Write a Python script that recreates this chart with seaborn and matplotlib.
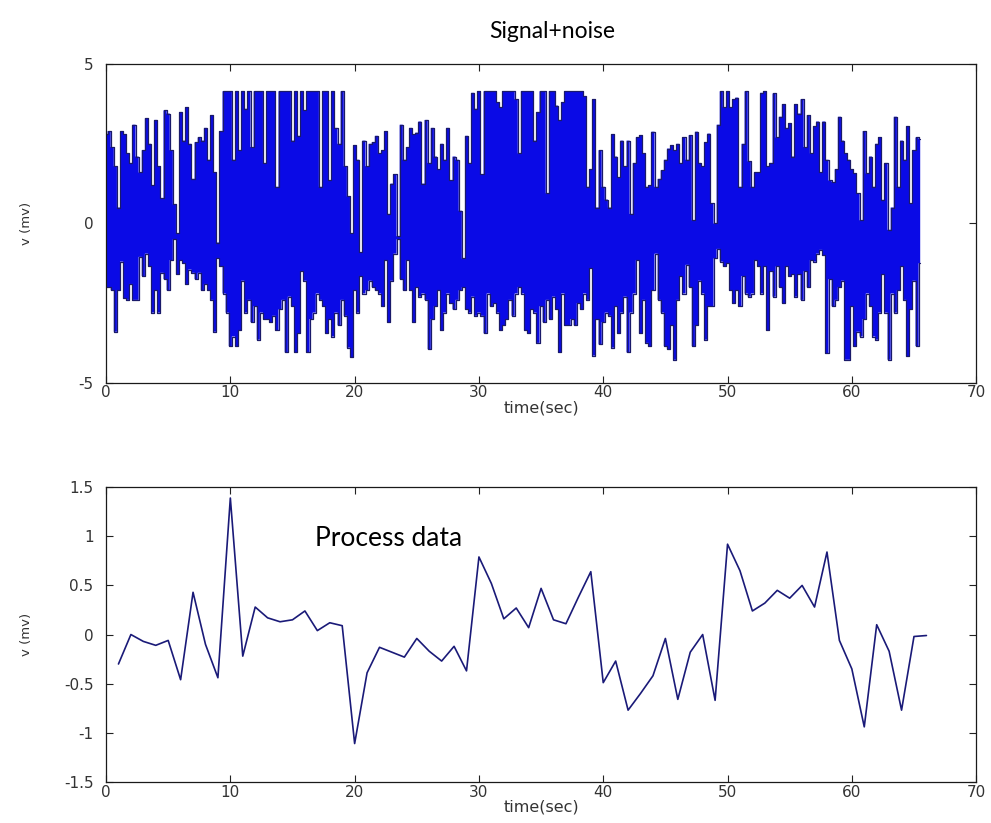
import numpy as np
import matplotlib
matplotlib.use("Agg")
import matplotlib.pyplot as plt
import seaborn as sns

# ---- Signal+noise: upper / lower excursion of the trace (mV), one column every 0.25 s ----
sample_dt = 0.25
sig_upper = [
    2.8, 2.9, 2.4, 1.8,   0.5, 2.9, 2.8, 2.2,   1.9, 3.1, 2.1, 1.6,   2.3, 3.3, 2.5, 1.2,
    3.25, 1.8, 0.8, 3.55, 3.45, 2.3, 0.6, -0.3, 3.5, 2.6, 3.65, 2.5,  1.4, 2.55, 2.7, 2.6,
    3.0, 2.0, 3.4, 1.6,   -0.6, 2.9, 4.15, 4.15, 4.15, 2.0, 4.15, 2.3, 4.15, 3.6, 4.15, 2.4,
    4.15, 4.15, 4.15, 1.9, 4.15, 4.15, 4.15, 1.15, 4.15, 4.15, 4.15, 4.15, 2.6, 4.15, 2.75, 4.15,
    3.55, 4.15, 4.15, 4.15, 4.15, 1.15, 4.15, 4.15, 1.35, 4.15, 3.0, 2.5, 4.15, 1.8, 0.85, -0.3,
    2.45, 2.0, -0.9, 2.6, 1.8, 2.5, 2.55, 2.75, 2.2, 2.3, 2.9, 0.3,  1.25, 1.55, -0.4, 3.1,
    2.0, 2.4, 3.0, 2.8,   2.85, 3.2, 1.25, 3.25, 1.9, 3.0, 2.1, 1.7,   2.5, 2.0, 3.0, 1.35,
    2.1, 2.0, 0.4, -1.1,  2.75, 1.9, 4.1, 3.6,  4.15, 1.55, 4.15, 4.15, 4.15, 4.15, 3.8, 3.65,
    4.15, 4.15, 4.15, 4.15, 3.9, 2.2, 4.15, 4.15, 4.15, 4.15, 2.6, 3.5, 4.15, 4.15, 0.95, 4.15,
    4.15, 3.7, 3.25, 3.8, 4.15, 4.15, 4.15, 4.15, 4.15, 4.15, 4.0, 1.15, 1.7, 3.9, 0.5, 2.3,
    1.15, 0.75, 0.5, 2.8, 2.1, 1.45, 2.6, 1.8,  2.6, 0.3, 1.9, 2.7,    2.77, 2.2, 1.15, 1.2,
    2.88, 1.15, 1.4, 1.67, 2.0, 2.35, 2.45, 2.3, 2.5, 1.9, 2.7, 2.0,   2.77, 0.1, 2.88, 1.9,
    1.8, 2.55, 2.82, 0.63, 0.0, 3.1, 4.15, 3.65, 4.15, 3.65, 3.9, 3.95, 1.15, 2.5, 4.15, 1.95,
    1.15, 1.6, 1.6, 4.1,  4.15, 1.8, 1.9, 4.08, 2.7, 3.35, 3.75, 3.0, 3.15, 2.1, 3.75, 3.45,
    3.9, 2.4, 3.4, 2.2,   3.05, 3.2, 1.6, 3.2,  2.0, 1.35, 1.3, 1.7,   3.35, 2.6, 2.2, 2.0,
    1.7, 1.57, 0.95, 0.1, 2.9, 1.57, 2.1, 1.15, 2.5, 2.7, 0.74, 1.9,   -0.2, 0.5, 3.35, 1.15,
    2.6, 2.0, 3.05, 0.63, 2.3, 2.7, 2.65,
]
sig_lower = [
    -2.0, -2.0, -2.1, -3.4, -2.1, -1.2, -2.35, -2.4, -1.9, -2.4, -2.4, -1.05, -1.65, -0.95, -1.35, -2.8,
    -2.1, -2.8, -1.55, -1.75, -2.1, -1.15, -0.5, -1.6, -1.15, -1.25, -1.9, -1.45, -1.55, -1.75, -1.55, -2.1,
    -1.9, -2.1, -2.4, -3.4, -1.1, -1.35, -2.2, -2.8, -3.85, -3.55, -3.85, -3.35, -1.8, -2.8, -2.4, -3.1,
    -2.6, -3.65, -2.8, -3.0, -3.0, -3.1, -2.9, -3.35, -2.7, -2.4, -4.05, -2.3, -2.6, -4.05, -3.45, -1.5,
    -1.8, -4.05, -3.0, -2.8, -2.2, -2.4, -2.6, -3.45, -3.0, -3.55, -2.8, -3.2, -2.4, -2.9, -3.9, -4.2,
    -2.1, -2.8, -1.65, -2.2, -2.1, -1.8, -2.0, -2.1, -2.2, -2.6, -1.15, -3.1, -1.8, -0.95, -0.5, -1.75,
    -2.1, -1.15, -2.1, -3.1, -2.0, -2.3, -2.2, -2.4, -3.95, -3.0, -2.6, -2.1, -3.35, -2.8, -2.2, -2.5,
    -2.7, -2.4, -2.1, -2.0, -2.7, -2.8, -2.3, -2.9, -2.8, -2.9, -3.45, -2.2, -2.6, -2.5, -2.8, -3.35,
    -3.2, -3.0, -2.4, -2.9, -2.2, -2.0, -2.2, -3.35, -3.45, -2.7, -2.8, -3.75, -2.6, -3.1, -2.4, -3.0,
    -2.3, -2.7, -4.05, -2.2, -3.2, -3.2, -3.0, -3.2, -2.5, -2.7, -2.2, -2.4, -1.4, -4.15, -3.0, -3.8,
    -3.1, -2.8, -2.9, -3.9, -2.6, -3.45, -2.8, -2.3, -4.05, -2.8, -2.2, -1.15, -3.45, -2.4, -3.75, -3.85,
    -2.1, -0.95, -2.4, -2.8, -3.85, -3.95, -3.2, -4.28, -2.4, -1.65, -2.2, -1.3, -2.0, -3.85, -3.2, -1.8,
    -2.2, -3.65, -2.6, -2.6, -1.1, -0.8, -1.2, -1.35, -1.25, -2.1, -2.5, -2.1, -2.6, -1.65, -2.2, -2.3,
    -2.2, -1.15, -1.35, -2.2, -1.35, -3.35, -1.5, -2.3, -1.35, -2.0, -2.5, -1.35, -1.65, -1.6, -2.3, -1.6,
    -2.4, -1.5, -2.0, -1.15, -1.2, -0.95, -0.83, -1.0, -4.07, -1.75, -2.6, -2.4, -2.0, -1.8, -4.28, -4.28,
    -2.6, -3.85, -3.4, -3.55, -3.0, -2.2, -2.6, -3.55, -3.65, -2.8, -1.6, -2.8, -4.28, -2.2, -2.8, -2.1,
    -1.35, -2.4, -4.17, -2.7, -1.8, -3.85, -1.25,
]

# ---- Process data: one value per second ----
proc_time = list(range(1, 67))
proc_value = [
    -0.30, 0.00, -0.07, -0.11, -0.06, -0.46, 0.43, -0.10, -0.44, 1.39,
    -0.22, 0.28, 0.17, 0.13, 0.15, 0.24, 0.04, 0.12, 0.09, -1.11,
    -0.39, -0.13, -0.18, -0.23, -0.04, -0.17, -0.27, -0.12, -0.37, 0.79,
    0.52, 0.16, 0.27, 0.07, 0.47, 0.15, 0.11, 0.38, 0.64, -0.49,
    -0.27, -0.77, -0.60, -0.42, -0.04, -0.66, -0.18, 0.00, -0.67, 0.92,
    0.65, 0.24, 0.32, 0.45, 0.37, 0.50, 0.28, 0.84, -0.06, -0.35,
    -0.94, 0.10, -0.17, -0.77, -0.02, -0.01,
]

x_ticks = [0, 10, 20, 30, 40, 50, 60, 70]
top_y_ticks = [-5, 0, 5]
bottom_y_ticks = [-1.5, -1, -0.5, 0, 0.5, 1, 1.5]
bottom_y_labels = ["-1.5", "-1", "-0.5", "0", "0.5", "1", "1.5"]

sns.set_theme(style="white")
plt.rcParams["font.family"] = ["DejaVu Sans"]

fig = plt.figure(figsize=(9.91, 8.23), dpi=100)
fig.patch.set_facecolor("white")
ax1 = fig.add_axes([0.107, 0.535, 0.878, 0.387])
ax2 = fig.add_axes([0.107, 0.050, 0.878, 0.358])

# top panel: dense noisy trace as min/max columns
sig_t = np.arange(len(sig_upper)) * sample_dt
ax1.fill_between(sig_t, sig_lower, sig_upper, step="mid",
                 facecolor="#0a0ae6", edgecolor="none")
sns.lineplot(x=sig_t, y=sig_upper, ax=ax1, drawstyle="steps-mid",
             color="#1a1a6a", linewidth=0.9, estimator=None)
sns.lineplot(x=sig_t, y=sig_lower, ax=ax1, drawstyle="steps-mid",
             color="#1a1a6a", linewidth=0.9, estimator=None)

# bottom panel: processed data
sns.lineplot(x=proc_time, y=proc_value, ax=ax2, color="#1a1a78",
             linewidth=1.2, estimator=None)

tick_font = {"family": "DejaVu Sans", "size": 11}
for ax in (ax1, ax2):
    ax.set_xlim(0, 70)
    ax.set_xticks(x_ticks)
    ax.set_xticklabels([str(v) for v in x_ticks], fontdict=tick_font)
    ax.tick_params(axis="both", direction="in", length=5, width=0.8,
                   top=True, right=True, bottom=True, left=True,
                   colors="#222222", labelcolor="#333333")
    ax.tick_params(axis="x", pad=2)
    ax.tick_params(axis="y", pad=9)
    for sp in ax.spines.values():
        sp.set_visible(True)
        sp.set_color("#1a1a1a")
        sp.set_linewidth(0.9)
    ax.set_xlabel("time(sec)", fontsize=11.5, family="DejaVu Sans",
                  labelpad=0, color="#333333")
    ax.set_ylabel("v (mv)", fontsize=9.5, family="DejaVu Sans", color="#333333")
    ax.yaxis.set_label_coords(-0.084, 0.5)
    ax.grid(False)

ax1.set_ylim(-5, 5)
ax1.set_yticks(top_y_ticks)
ax1.set_yticklabels([str(v) for v in top_y_ticks], fontdict=tick_font)

ax2.set_ylim(-1.5, 1.5)
ax2.set_yticks(bottom_y_ticks)
ax2.set_yticklabels(bottom_y_labels, fontdict=tick_font)

fig.text(0.557, 1 - 32 / 823, "Signal+noise", ha="center", va="center",
         fontsize=16.5, family=["Lato", "DejaVu Sans"], color="black")
fig.text(315 / 991, 1 - 546 / 823, "Process data", ha="left", va="baseline",
         fontsize=19, family=["Lato", "DejaVu Sans"], color="black")

fig.savefig("out.png", dpi=100, facecolor="white")
